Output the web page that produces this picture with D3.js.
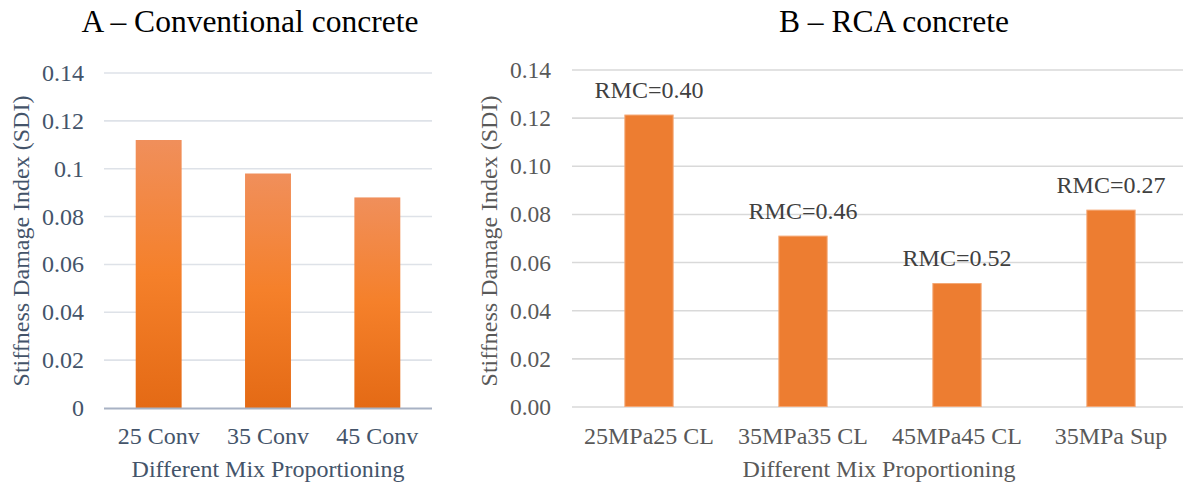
<!DOCTYPE html>
<meta charset="utf-8">
<head>
  <title>Stiffness damage index - conventional vs RCA</title>
</head>

<style>
body {
  margin: 0;
  background: #fff;
}
svg text {
  font-family: "Liberation Serif", "Times New Roman", serif;
}
</style>

<body>
  <div id="content">
    <svg width="1183" height="487"></svg>
  </div>

  <script src="https://cdnjs.cloudflare.com/ajax/libs/d3/7.8.5/d3.min.js"></script>

  <script>
// chart A - conventional concrete
var convMixes = ['25 Conv', '35 Conv', '45 Conv'];
var convSdi = [0.112, 0.098, 0.088];

// chart B - RCA concrete
var rcaMixes = ['25MPa25 CL', '35MPa35 CL', '45MPa45 CL', '35MPa Sup'];
var rcaSdi = [0.1215, 0.0712, 0.0515, 0.082];
var rcaLabels = ['RMC=0.40', 'RMC=0.46', 'RMC=0.52', 'RMC=0.27'];

var yTicks = [0, 0.02, 0.04, 0.06, 0.08, 0.1, 0.12, 0.14];

var svg = d3.select('#content svg');

// gradient for the left bars
var grad = svg.append('defs').append('linearGradient')
  .attr('id', 'orangeGrad')
  .attr('x1', 0).attr('y1', 0).attr('x2', 0).attr('y2', 1);
grad.append('stop').attr('offset', '0%').attr('stop-color', '#F08F5B');
grad.append('stop').attr('offset', '50%').attr('stop-color', '#F5802A');
grad.append('stop').attr('offset', '100%').attr('stop-color', '#E46A15');

// ---------- chart A ----------
var xA = d3.scaleBand()
  .domain(convMixes)
  .range([104, 432])
  .paddingInner(0.58)
  .paddingOuter(0.29);

var yA = d3.scaleLinear()
  .domain([0, 0.14])
  .range([408, 73]);

var gA = svg.append('g');

// gridlines
gA.selectAll('line.grid')
  .data(yTicks.filter(function(d) { return d > 0; }))
  .enter().append('line')
  .attr('x1', 104).attr('x2', 432)
  .attr('y1', function(d) { return yA(d); })
  .attr('y2', function(d) { return yA(d); })
  .attr('stroke', '#DEE2E8')
  .attr('stroke-width', 1.6);

gA.selectAll('rect')
  .data(convSdi)
  .enter().append('rect')
  .attr('x', function(d, i) { return xA(convMixes[i]); })
  .attr('width', xA.bandwidth())
  .attr('y', function(d) { return yA(d); })
  .attr('height', function(d) { return yA(0) - yA(d); })
  .attr('fill', 'url(#orangeGrad)');

// baseline
gA.append('line')
  .attr('x1', 104).attr('x2', 432)
  .attr('y1', yA(0) + 0.5).attr('y2', yA(0) + 0.5)
  .attr('stroke', '#A8B2C4')
  .attr('stroke-width', 2);

gA.selectAll('text.ytick')
  .data(yTicks)
  .enter().append('text')
  .attr('x', 84)
  .attr('y', function(d) { return yA(d) + 8; })
  .attr('text-anchor', 'end')
  .attr('font-size', 24)
  .attr('fill', '#44546A')
  .text(function(d) { return String(+d.toFixed(2)); });

gA.selectAll('text.xtick')
  .data(convMixes)
  .enter().append('text')
  .attr('x', function(d) { return xA(d) + xA.bandwidth() / 2; })
  .attr('y', 444)
  .attr('text-anchor', 'middle')
  .attr('font-size', 24)
  .attr('fill', '#44546A')
  .text(function(d) { return d; });

gA.append('text')
  .attr('x', 268).attr('y', 477)
  .attr('text-anchor', 'middle')
  .attr('font-size', 24)
  .attr('fill', '#44546A')
  .text('Different Mix Proportioning');

gA.append('text')
  .attr('transform', 'translate(29,241) rotate(-90)')
  .attr('text-anchor', 'middle')
  .attr('font-size', 24)
  .attr('fill', '#44546A')
  .text('Stiffness Damage Index (SDI)');

gA.append('text')
  .attr('x', 250).attr('y', 32)
  .attr('text-anchor', 'middle')
  .attr('font-size', 31.5)
  .attr('fill', '#000')
  .text('A \u2013 Conventional concrete');

// ---------- chart B ----------
var xB = d3.scaleBand()
  .domain(rcaMixes)
  .range([572, 1188])
  .paddingInner(0.68)
  .paddingOuter(0.34);

var yB = d3.scaleLinear()
  .domain([0, 0.14])
  .range([407, 70]);

var gB = svg.append('g');

gB.selectAll('line.grid')
  .data(yTicks)
  .enter().append('line')
  .attr('x1', 572).attr('x2', 1183)
  .attr('y1', function(d) { return yB(d); })
  .attr('y2', function(d) { return yB(d); })
  .attr('stroke', '#D9D9D9')
  .attr('stroke-width', 1.6);

gB.selectAll('rect')
  .data(rcaSdi)
  .enter().append('rect')
  .attr('x', function(d, i) { return xB(rcaMixes[i]) + 0.5; })
  .attr('width', xB.bandwidth() - 1)
  .attr('y', function(d) { return yB(d) + 0.5; })
  .attr('height', function(d) { return yB(0) - yB(d) - 1; })
  .attr('fill', '#ED7D31')
  .attr('stroke', '#F4A774')
  .attr('stroke-width', 1);

gB.selectAll('text.rmc')
  .data(rcaSdi)
  .enter().append('text')
  .attr('x', function(d, i) { return xB(rcaMixes[i]) + xB.bandwidth() / 2; })
  .attr('y', function(d) { return yB(d) - 17; })
  .attr('text-anchor', 'middle')
  .attr('font-size', 24)
  .attr('fill', '#404040')
  .text(function(d, i) { return rcaLabels[i]; });

gB.selectAll('text.ytick')
  .data(yTicks)
  .enter().append('text')
  .attr('x', 551)
  .attr('y', function(d) { return yB(d) + 8; })
  .attr('text-anchor', 'end')
  .attr('font-size', 23.5)
  .attr('fill', '#595959')
  .text(d3.format('.2f'));

gB.selectAll('text.xtick')
  .data(rcaMixes)
  .enter().append('text')
  .attr('x', function(d) { return xB(d) + xB.bandwidth() / 2; })
  .attr('y', 444)
  .attr('text-anchor', 'middle')
  .attr('font-size', 24)
  .attr('fill', '#595959')
  .text(function(d) { return d; });

gB.append('text')
  .attr('x', 879).attr('y', 477)
  .attr('text-anchor', 'middle')
  .attr('font-size', 24)
  .attr('fill', '#595959')
  .text('Different Mix Proportioning');

gB.append('text')
  .attr('transform', 'translate(497,241) rotate(-90)')
  .attr('text-anchor', 'middle')
  .attr('font-size', 24)
  .attr('fill', '#595959')
  .text('Stiffness Damage Index (SDI)');

gB.append('text')
  .attr('x', 894).attr('y', 32)
  .attr('text-anchor', 'middle')
  .attr('font-size', 31.5)
  .attr('fill', '#000')
  .text('B \u2013 RCA concrete');
  </script>
</body>
</html>
